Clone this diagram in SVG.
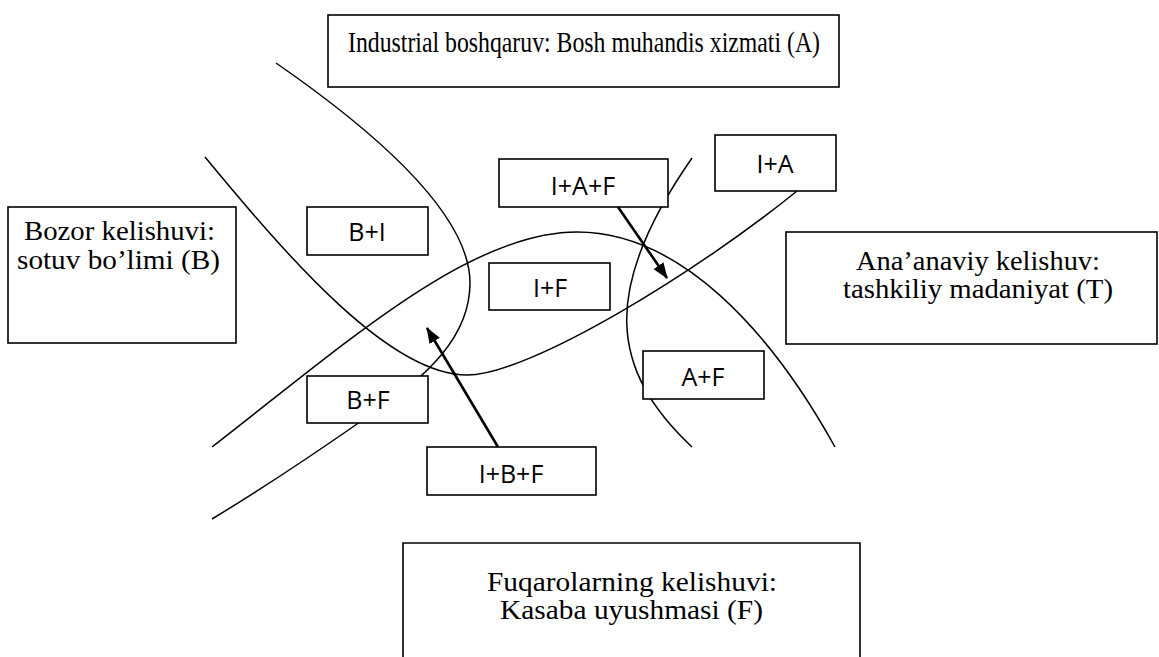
<svg xmlns="http://www.w3.org/2000/svg" width="1159" height="657" viewBox="0 0 1159 657">
<style>
.bg{fill:#fff}
.box{fill:#fff;stroke:#000;stroke-width:1.6}
.curve{fill:none;stroke:#000;stroke-width:1.5}
.arrow{fill:none;stroke:#000;stroke-width:2.6}
.serif{font-family:"Liberation Serif","Times New Roman",serif;font-size:27px;fill:#000}
.sans{font-family:"Open Sans","DejaVu Sans",sans-serif;font-size:25px;fill:#000;text-anchor:middle}
</style>
<defs>
<marker id="ah" viewBox="0 0 16 12" refX="15" refY="6" markerWidth="16" markerHeight="12" markerUnits="userSpaceOnUse" orient="auto">
<path d="M0,0 L16,6 L0,12 z" fill="#000"/>
</marker>
</defs>
<rect class="bg" x="0" y="0" width="1159" height="657"/>
<g id="connectors">
<path class="curve" d="M276,63 C380,135 470,215 470,283 C470,335 430,375 370,415 C320,450 260,490 212,519"/>
<path class="curve" d="M205,157 C290,260 390,375 467,375 C530,375 700,270 797,191"/>
<path class="curve" d="M212,447 C350,340 470,232 577,232 C680,232 770,330 835,447"/>
<path class="curve" d="M692,158 C600,290 610,370 692,447"/>
</g>
<g id="node-A">
<rect class="box" x="328" y="15" width="511" height="72"/>
<text class="serif" style="font-size:29px" x="348" y="52" textLength="472" lengthAdjust="spacingAndGlyphs">Industrial boshqaruv: Bosh muhandis xizmati (A)</text>
</g>
<g id="node-B">
<rect class="box" x="8" y="207" width="228" height="136"/>
<text class="serif" x="24" y="240" textLength="191" lengthAdjust="spacingAndGlyphs">Bozor kelishuvi:</text>
<text class="serif" x="17" y="269" textLength="203" lengthAdjust="spacingAndGlyphs">sotuv bo’limi (B)</text>
</g>
<g id="node-T">
<rect class="box" x="786" y="232" width="371" height="112"/>
<text class="serif" x="856" y="270" textLength="244" lengthAdjust="spacingAndGlyphs">Ana’anaviy kelishuv:</text>
<text class="serif" x="843" y="298" textLength="270" lengthAdjust="spacingAndGlyphs">tashkiliy madaniyat (T)</text>
</g>
<g id="node-F">
<path class="box" d="M403,660 L403,543 L860,543 L860,660"/>
<text class="serif" x="487" y="591" textLength="290" lengthAdjust="spacingAndGlyphs">Fuqarolarning kelishuvi:</text>
<text class="serif" x="500" y="619" textLength="263" lengthAdjust="spacingAndGlyphs">Kasaba uyushmasi (F)</text>
</g>
<g id="node-BI">
<rect class="box" x="307" y="207" width="121" height="48"/>
<text class="sans" x="367" y="241">B+I</text>
</g>
<g id="node-IAF">
<rect class="box" x="499" y="159" width="169" height="48"/>
<text class="sans" x="583" y="195">I+A+F</text>
</g>
<g id="node-IA">
<rect class="box" x="715" y="135" width="121" height="56"/>
<text class="sans" x="775" y="173">I+A</text>
</g>
<g id="node-IF">
<rect class="box" x="489" y="263" width="121" height="47"/>
<text class="sans" x="550" y="297">I+F</text>
</g>
<g id="node-AF">
<rect class="box" x="643" y="351" width="121" height="48"/>
<text class="sans" x="703" y="386">A+F</text>
</g>
<g id="node-BF">
<rect class="box" x="307" y="376" width="121" height="47"/>
<text class="sans" x="368" y="409">B+F</text>
</g>
<g id="node-IBF">
<rect class="box" x="427" y="447" width="169" height="48"/>
<text class="sans" x="511" y="483">I+B+F</text>
</g>
<g id="arrows">
<path class="arrow" d="M618,207 L667,278" marker-end="url(#ah)"/>
<path class="arrow" d="M498,447 L427,328" marker-end="url(#ah)"/>
</g>
</svg>
